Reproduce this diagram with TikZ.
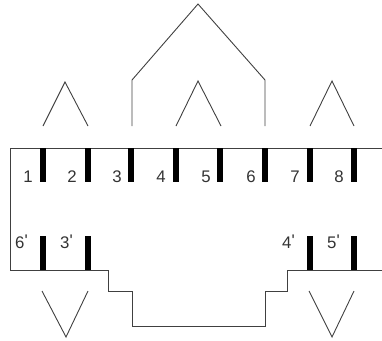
\documentclass[tikz,border=0pt]{standalone}
\usepackage{fontspec}
\setmainfont{Liberation Sans}
\begin{document}
\begin{tikzpicture}[x=1pt,y=-1pt,
  outline/.style={draw=black!75,line width=0.9pt,line join=miter},
  bar/.style={draw=black,line width=5.5pt},
  lbl/.style={inner sep=0pt,anchor=base,font=\fontsize{16.8}{18}\selectfont,text=black!80},
  plbl/.style={inner sep=0pt,anchor=base west,font=\fontsize{16.8}{18}\selectfont,text=black!80}]
\useasboundingbox (0,0) rectangle (382,340);
% frame outline
\coordinate (tr) at (382,148);
\coordinate (tl) at (10,148);
\coordinate (bl) at (10,270);
\coordinate (s1) at (108,270);
\coordinate (s2) at (108,291);
\coordinate (s3) at (132,291);
\coordinate (s4) at (132,326);
\coordinate (s5) at (265,326);
\coordinate (s6) at (265,291);
\coordinate (s7) at (287,291);
\coordinate (s8) at (287,270);
\coordinate (br) at (382,270);
\draw[outline] (tr) -- (tl) -- (bl) -- (s1) -- (s2) -- (s3) -- (s4) -- (s5) -- (s6) -- (s7) -- (s8) -- (br);
% top bars
\foreach \i/\x in {1/43,2/88,3/131,4/176,5/220,6/265,7/310,8/354} {
  \coordinate (ta\i) at (\x,148);
  \coordinate (tb\i) at (\x,182);
  \draw[bar] (ta\i) -- (tb\i);
}
% bottom bars
\foreach \i/\x in {1/43,2/88,3/310,4/354} {
  \coordinate (ba\i) at (\x,236);
  \coordinate (bb\i) at (\x,270);
  \draw[bar] (ba\i) -- (bb\i);
}
% labels
\foreach \t/\x in {1/28,2/72,3/117,4/161,5/206,6/251,7/295,8/339} {
  \node[lbl] (n\t) at (\x,182) {\t};
}
\node[plbl] (p6) at (15,248) {6\raisebox{1.5pt}{\textquotesingle}};
\node[plbl] (p3) at (60,248) {3\raisebox{1.5pt}{\textquotesingle}};
\node[plbl] (p4) at (282,248) {4\raisebox{1.5pt}{\textquotesingle}};
\node[plbl] (p5) at (327,248) {5\raisebox{1.5pt}{\textquotesingle}};
% top chevrons
\coordinate (l1) at (43,126); \coordinate (l2) at (65,82); \coordinate (l3) at (88,126);
\draw[outline] (l1) -- (l2) -- (l3);
\coordinate (m1) at (176,126); \coordinate (m2) at (198,81); \coordinate (m3) at (221,126);
\draw[outline] (m1) -- (m2) -- (m3);
\coordinate (r1) at (310,126); \coordinate (r2) at (332,81); \coordinate (r3) at (354,126);
\draw[outline] (r1) -- (r2) -- (r3);
% roof
\coordinate (h1) at (132,126); \coordinate (h2) at (132,80); \coordinate (h3) at (198,4);
\coordinate (h4) at (265,80); \coordinate (h5) at (265,126);
\draw[outline] (h1) -- (h2) -- (h3) -- (h4) -- (h5);
% bottom V's
\coordinate (v1) at (42,291); \coordinate (v2) at (66,337); \coordinate (v3) at (88,291);
\draw[outline] (v1) -- (v2) -- (v3);
\coordinate (w1) at (309,291); \coordinate (w2) at (332,337); \coordinate (w3) at (354,291);
\draw[outline] (w1) -- (w2) -- (w3);
\end{tikzpicture}
\end{document}
